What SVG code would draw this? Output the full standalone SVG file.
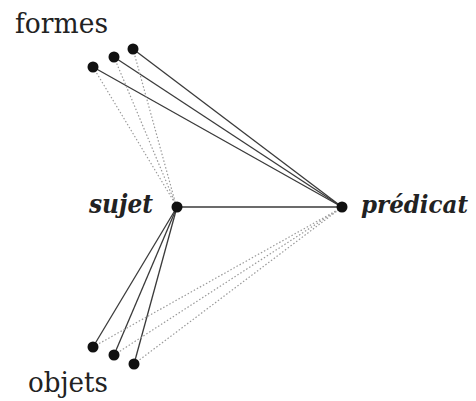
<svg xmlns="http://www.w3.org/2000/svg" width="476" height="401" viewBox="0 0 476 401">
<style>
.bg{fill:#fff}
.solid{stroke:#3a3a3a;stroke-width:1.3;fill:none}
.dot{stroke:#9a9a9a;stroke-width:1.2;stroke-dasharray:1.5 2;fill:none}
.node{fill:#111}
.lbl{font-family:"DejaVu Serif","Liberation Serif",serif;fill:#222}
.it{font-style:italic;font-weight:bold}
</style>
<rect class="bg" width="476" height="401"/>
<g id="connectors">
<line class="solid" x1="177" y1="207" x2="342" y2="207"/>
<line class="solid" x1="93" y1="67" x2="342" y2="207"/>
<line class="solid" x1="114" y1="57" x2="342" y2="207"/>
<line class="solid" x1="133" y1="49" x2="342" y2="207"/>
<line class="solid" x1="93" y1="347" x2="177" y2="207"/>
<line class="solid" x1="114" y1="355" x2="177" y2="207"/>
<line class="solid" x1="134" y1="364" x2="177" y2="207"/>
<line class="dot" x1="93" y1="67" x2="176" y2="205"/>
<line class="dot" x1="114" y1="57" x2="176" y2="205"/>
<line class="dot" x1="133" y1="49" x2="176" y2="205"/>
<line class="dot" x1="93" y1="347" x2="341" y2="208"/>
<line class="dot" x1="114" y1="355" x2="341" y2="208"/>
<line class="dot" x1="134" y1="364" x2="341" y2="208"/>
</g>
<g id="formes">
<circle class="node" cx="93" cy="67" r="5.5"/>
<circle class="node" cx="114" cy="57" r="5.5"/>
<circle class="node" cx="133" cy="49" r="5.5"/>
<text class="lbl" x="15" y="33" font-size="27" textLength="93" lengthAdjust="spacingAndGlyphs">formes</text>
</g>
<g id="sujet">
<circle class="node" cx="177" cy="207" r="5.5"/>
<text class="lbl it" x="89" y="213" font-size="26" textLength="64" lengthAdjust="spacingAndGlyphs">sujet</text>
</g>
<g id="predicat">
<circle class="node" cx="342" cy="207" r="5.5"/>
<text class="lbl it" x="361" y="213" font-size="25" textLength="107" lengthAdjust="spacingAndGlyphs">prédicat</text>
</g>
<g id="objets">
<circle class="node" cx="93" cy="347" r="5.5"/>
<circle class="node" cx="114" cy="355" r="5.5"/>
<circle class="node" cx="134" cy="364" r="5.5"/>
<text class="lbl" x="28" y="392" font-size="27" textLength="80" lengthAdjust="spacingAndGlyphs">objets</text>
</g>
</svg>
